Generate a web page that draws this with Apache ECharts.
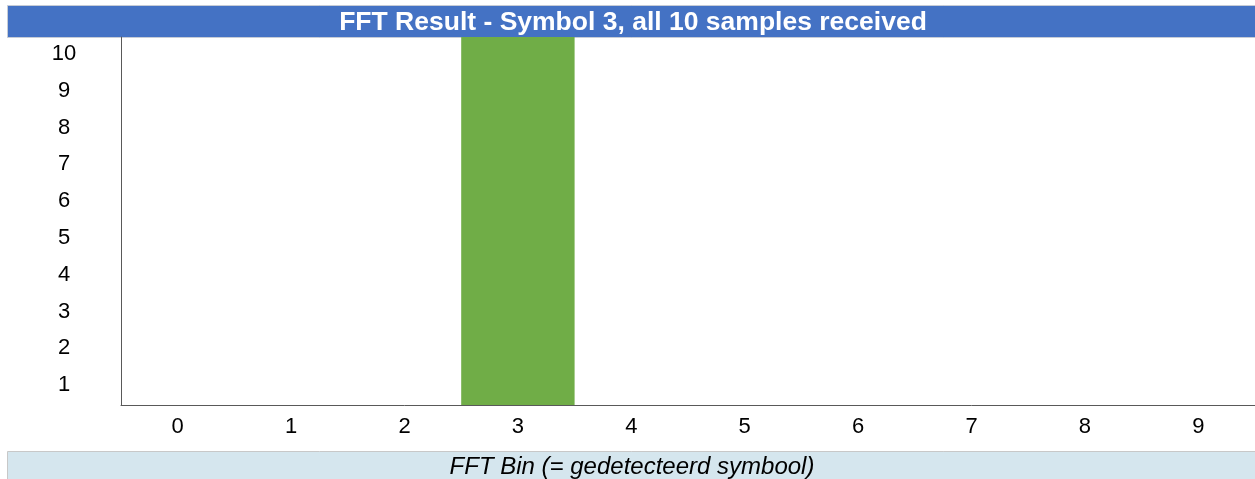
<!DOCTYPE html>
<html><head><meta charset="utf-8">
<script src="https://cdn.jsdelivr.net/npm/echarts@6/dist/echarts.min.js"></script>
<style>html,body{margin:0;padding:0;background:#fff}#c{width:1255px;height:479px}</style>
</head><body><div id="c"></div>
<script>
const categories = ['0','1','2','3','4','5','6','7','8','9'];
const values = [0,0,0,10,0,0,0,0,0,0];
const titleText = 'FFT Result - Symbol 3, all 10 samples received';
const xName = 'FFT Bin (= gedetecteerd symbool)';

const chart = echarts.init(document.getElementById('c'), null, {renderer:'canvas'});
const font = '"Liberation Sans", Arial, sans-serif';
chart.setOption({
  animation:false,
  graphic:[
    {type:'rect', shape:{x:7.5,y:5.5,width:1260,height:32}, style:{fill:'#4472C4',stroke:'#c6ccd6',lineWidth:1}, z:0},
    {type:'text', x:633, y:23, style:{text:titleText, fill:'#fff', font:'bold 26.5px '+font, textAlign:'center', textVerticalAlign:'middle'}, z:10},
    {type:'rect', shape:{x:7.5,y:451.5,width:1260,height:40}, style:{fill:'#D5E6EE',stroke:'#c8c8c8',lineWidth:1}, z:0},
    {type:'text', x:632, y:467, style:{text:xName, fill:'#000', font:'italic 24px '+font, textAlign:'center', textVerticalAlign:'middle'}, z:10}
  ],
  grid:{left:121, right:0, top:37, bottom:74, containLabel:false},
  xAxis:{
    type:'category', data:categories,
    axisLine:{lineStyle:{color:'#595959', width:1}},
    axisTick:{show:false},
    axisLabel:{color:'#000', fontSize:22, fontFamily:font, margin:11}
  },
  yAxis:{
    type:'value', min:0, max:10, interval:1,
    axisLine:{show:true, lineStyle:{color:'#595959', width:1}},
    axisTick:{show:false},
    splitLine:{show:false},
    axisLabel:{color:'#000', fontSize:22, fontFamily:font, showMinLabel:false, align:'center', margin:57, verticalAlign:'top', lineHeight:34}
  },
  series:[{type:'bar', data:values, barWidth:'100%', barCategoryGap:'0%', itemStyle:{color:'#70AD47'}}]
});
</script></body></html>
